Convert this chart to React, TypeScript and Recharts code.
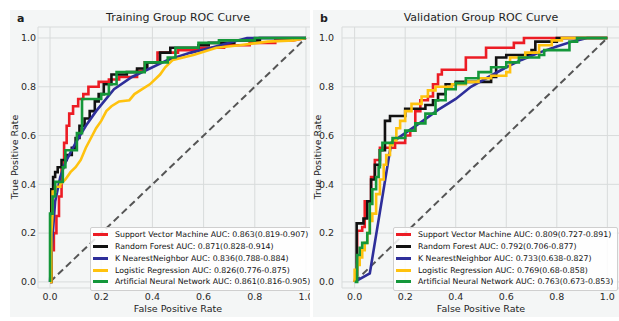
import { LineChart, Line, XAxis, YAxis, CartesianGrid } from 'recharts';

type Pt = [number, number];

const ticks = [0, 0.2, 0.4, 0.6, 0.8, 1.0];
const models = ['Support Vector Machine', 'Random Forest', 'K NearestNeighbor', 'Logistic Regression', 'Artificial Neural Network'];
const colors = ['#ec1c24', '#111111', '#2e2e9a', '#ffc20e', '#14973a'];
const trainAuc = ['0.863(0.819-0.907)', '0.871(0.828-0.914)', '0.836(0.788-0.884)', '0.826(0.776-0.875)', '0.861(0.816-0.905)'];
const valAuc = ['0.809(0.727-0.891)', '0.792(0.706-0.877)', '0.733(0.638-0.827)', '0.769(0.68-0.858)', '0.763(0.673-0.853)'];
const chance: Pt[] = [[0, 0], [1, 1]];

// training group, (fpr, tpr)
const trainSvm: Pt[] = [[0, 0], [0.005, 0], [0.005, 0.13], [0.015, 0.13], [0.015, 0.2], [0.025, 0.2], [0.025, 0.27], [0.035, 0.27], [0.035, 0.35], [0.045, 0.35], [0.045, 0.47], [0.055, 0.47], [0.055, 0.57], [0.065, 0.57], [0.065, 0.64], [0.075, 0.64], [0.075, 0.69], [0.09, 0.69], [0.09, 0.72], [0.11, 0.72], [0.11, 0.75], [0.13, 0.75], [0.13, 0.77], [0.15, 0.77], [0.15, 0.8], [0.19, 0.8], [0.19, 0.82], [0.23, 0.82], [0.23, 0.83], [0.27, 0.83], [0.27, 0.84], [0.34, 0.84], [0.34, 0.865], [0.37, 0.865], [0.37, 0.9], [0.42, 0.9], [0.42, 0.94], [0.5, 0.94], [0.5, 0.95], [0.58, 0.95], [0.58, 0.96], [0.68, 0.96], [0.68, 0.97], [0.78, 0.97], [0.78, 0.98], [0.88, 0.98], [0.88, 0.99], [0.95, 0.99], [1, 1]];
const trainRf: Pt[] = [[0, 0], [0.005, 0], [0.005, 0.38], [0.012, 0.38], [0.012, 0.43], [0.02, 0.43], [0.02, 0.45], [0.03, 0.45], [0.03, 0.47], [0.045, 0.47], [0.045, 0.5], [0.065, 0.5], [0.065, 0.52], [0.085, 0.52], [0.085, 0.55], [0.1, 0.55], [0.1, 0.59], [0.115, 0.59], [0.115, 0.64], [0.135, 0.64], [0.135, 0.67], [0.155, 0.67], [0.155, 0.7], [0.175, 0.7], [0.175, 0.74], [0.19, 0.74], [0.19, 0.77], [0.21, 0.77], [0.21, 0.81], [0.24, 0.81], [0.24, 0.85], [0.3, 0.85], [0.3, 0.86], [0.34, 0.86], [0.34, 0.875], [0.38, 0.875], [0.38, 0.9], [0.43, 0.9], [0.43, 0.94], [0.47, 0.94], [0.47, 0.96], [0.58, 0.96], [0.58, 0.97], [0.62, 0.97], [0.62, 0.98], [0.72, 0.98], [0.72, 0.99], [0.82, 0.99], [0.82, 1], [1, 1]];
const trainKnn: Pt[] = [[0, 0], [0.008, 0.16], [0.02, 0.33], [0.04, 0.43], [0.06, 0.49], [0.1, 0.57], [0.14, 0.64], [0.18, 0.7], [0.25, 0.79], [0.32, 0.84], [0.39, 0.875], [0.46, 0.91], [0.55, 0.94], [0.63, 0.96], [0.7, 0.98], [0.77, 1], [1, 1]];
const trainLr: Pt[] = [[0, 0], [0.005, 0], [0.005, 0.2], [0.01, 0.28], [0.01, 0.37], [0.02, 0.37], [0.02, 0.39], [0.04, 0.39], [0.04, 0.4], [0.06, 0.42], [0.08, 0.45], [0.1, 0.47], [0.12, 0.5], [0.14, 0.55], [0.16, 0.59], [0.18, 0.63], [0.2, 0.66], [0.22, 0.7], [0.24, 0.72], [0.27, 0.74], [0.31, 0.745], [0.33, 0.77], [0.36, 0.79], [0.39, 0.81], [0.43, 0.85], [0.45, 0.88], [0.48, 0.91], [0.56, 0.93], [0.65, 0.96], [0.74, 0.97], [0.85, 0.985], [0.95, 0.99], [1, 1]];
const trainAnn: Pt[] = [[0, 0], [0, 0.28], [0.01, 0.28], [0.01, 0.35], [0.02, 0.35], [0.02, 0.41], [0.05, 0.41], [0.05, 0.47], [0.06, 0.47], [0.06, 0.54], [0.105, 0.54], [0.105, 0.61], [0.125, 0.61], [0.125, 0.75], [0.2, 0.75], [0.2, 0.77], [0.23, 0.77], [0.23, 0.81], [0.26, 0.81], [0.26, 0.86], [0.37, 0.86], [0.37, 0.9], [0.46, 0.9], [0.46, 0.92], [0.49, 0.92], [0.49, 0.96], [0.58, 0.96], [0.58, 0.98], [0.66, 0.98], [0.66, 0.99], [0.8, 0.99], [0.8, 1], [1, 1]];

// validation group, (fpr, tpr)
const valSvm: Pt[] = [[0, 0], [0.005, 0.03], [0.01, 0.03], [0.01, 0.21], [0.03, 0.21], [0.03, 0.225], [0.04, 0.225], [0.04, 0.33], [0.065, 0.33], [0.065, 0.43], [0.08, 0.43], [0.08, 0.5], [0.1, 0.5], [0.1, 0.55], [0.16, 0.55], [0.16, 0.57], [0.2, 0.57], [0.2, 0.6], [0.22, 0.6], [0.22, 0.62], [0.24, 0.62], [0.24, 0.7], [0.26, 0.7], [0.26, 0.745], [0.29, 0.745], [0.29, 0.76], [0.31, 0.76], [0.31, 0.81], [0.33, 0.81], [0.33, 0.85], [0.345, 0.85], [0.345, 0.87], [0.44, 0.87], [0.44, 0.92], [0.52, 0.92], [0.52, 0.96], [0.63, 0.96], [0.63, 0.98], [0.67, 0.98], [0.67, 1], [1, 1]];
const valRf: Pt[] = [[0, 0], [0.008, 0.02], [0.008, 0.24], [0.035, 0.24], [0.035, 0.26], [0.05, 0.26], [0.05, 0.33], [0.065, 0.33], [0.065, 0.42], [0.08, 0.42], [0.08, 0.48], [0.1, 0.48], [0.1, 0.54], [0.12, 0.54], [0.12, 0.66], [0.14, 0.66], [0.14, 0.68], [0.2, 0.68], [0.2, 0.71], [0.28, 0.71], [0.28, 0.725], [0.31, 0.725], [0.31, 0.745], [0.33, 0.745], [0.33, 0.77], [0.36, 0.77], [0.36, 0.81], [0.4, 0.81], [0.4, 0.82], [0.54, 0.82], [0.54, 0.84], [0.56, 0.84], [0.56, 0.92], [0.6, 0.92], [0.6, 0.93], [0.7, 0.93], [0.7, 0.95], [0.715, 0.95], [0.715, 0.985], [0.8, 0.985], [0.8, 1], [1, 1]];
const valKnn: Pt[] = [[0, 0], [0.06, 0.035], [0.145, 0.57], [0.2, 0.61], [0.27, 0.66], [0.33, 0.705], [0.4, 0.75], [0.46, 0.8], [0.53, 0.84], [0.6, 0.88], [0.66, 0.91], [0.73, 0.94], [0.8, 0.965], [0.86, 0.985], [0.92, 1], [1, 1]];
const valLr: Pt[] = [[0, 0], [0, 0.05], [0.01, 0.05], [0.01, 0.07], [0.02, 0.07], [0.02, 0.1], [0.03, 0.1], [0.03, 0.13], [0.04, 0.13], [0.04, 0.16], [0.05, 0.16], [0.05, 0.2], [0.06, 0.2], [0.06, 0.25], [0.07, 0.25], [0.07, 0.28], [0.085, 0.28], [0.085, 0.36], [0.1, 0.36], [0.1, 0.42], [0.115, 0.42], [0.115, 0.48], [0.125, 0.48], [0.125, 0.52], [0.14, 0.52], [0.14, 0.56], [0.15, 0.56], [0.15, 0.58], [0.165, 0.58], [0.165, 0.63], [0.18, 0.63], [0.18, 0.66], [0.2, 0.66], [0.2, 0.7], [0.225, 0.7], [0.225, 0.73], [0.265, 0.73], [0.265, 0.76], [0.29, 0.76], [0.29, 0.785], [0.32, 0.785], [0.32, 0.8], [0.385, 0.8], [0.385, 0.81], [0.44, 0.81], [0.44, 0.82], [0.49, 0.82], [0.49, 0.835], [0.54, 0.835], [0.54, 0.845], [0.6, 0.845], [0.6, 0.86], [0.615, 0.86], [0.615, 0.92], [0.675, 0.92], [0.675, 0.94], [0.73, 0.94], [0.73, 0.97], [0.78, 0.97], [0.78, 0.99], [0.82, 0.99], [0.82, 1], [1, 1]];
const valAnn: Pt[] = [[0, 0], [0.01, 0], [0.01, 0.11], [0.02, 0.11], [0.02, 0.14], [0.03, 0.14], [0.03, 0.16], [0.05, 0.16], [0.05, 0.2], [0.06, 0.2], [0.06, 0.32], [0.07, 0.32], [0.07, 0.38], [0.085, 0.38], [0.085, 0.43], [0.095, 0.43], [0.095, 0.47], [0.1, 0.47], [0.1, 0.54], [0.11, 0.54], [0.11, 0.57], [0.15, 0.57], [0.15, 0.59], [0.2, 0.59], [0.2, 0.62], [0.24, 0.62], [0.24, 0.65], [0.28, 0.65], [0.28, 0.69], [0.32, 0.69], [0.32, 0.745], [0.36, 0.745], [0.36, 0.79], [0.4, 0.79], [0.4, 0.815], [0.44, 0.815], [0.44, 0.835], [0.49, 0.835], [0.49, 0.86], [0.54, 0.86], [0.54, 0.88], [0.6, 0.88], [0.6, 0.9], [0.65, 0.9], [0.65, 0.92], [0.73, 0.92], [0.73, 0.93], [0.75, 0.93], [0.75, 0.95], [0.85, 0.95], [0.85, 0.985], [0.88, 0.985], [0.88, 1], [1, 1]];

const toPts = (arr: Pt[]) => arr.map(([fpr, tpr]) => ({ fpr, tpr }));
const FONT = '"DejaVu Sans", sans-serif';
const TEXT = '#1e1e1e';

function RocPanel({ panelLeft, panelWidth, plotLeft, plotRight, xDomain, yTickGap, legendLeft, letter, title, curves, auc }: any) {
    const chartWidth = plotRight + 10;
    const center = (plotLeft + plotRight) / 2;
    const tickStyle = { fontSize: 9.5, fill: '#2a2a2a', fontFamily: FONT };
    return (
        <div style={{ position: 'absolute', left: panelLeft, top: 10, width: panelWidth, height: 307, background: '#f4f6f6', overflow: 'hidden' }}>
            <div style={{ position: 'absolute', left: -panelLeft, top: -10, width: 640, height: 321, fontFamily: FONT, color: TEXT }}>
                <LineChart width={chartWidth} height={321} margin={{ top: 27, right: 10, bottom: 5, left: plotLeft - 28 }}>
                    <CartesianGrid stroke="#d8dbdb" strokeWidth={1} />
                    <XAxis type="number" dataKey="fpr" domain={xDomain} allowDataOverflow ticks={ticks} interval={0}
                        tickFormatter={(v: number) => v.toFixed(1)} axisLine={false} tickLine={false} tickSize={3} tickMargin={2} height={28} tick={tickStyle} />
                    <YAxis type="number" domain={[-0.025, 1.045]} allowDataOverflow ticks={ticks} interval={0}
                        tickFormatter={(v: number) => v.toFixed(1)} axisLine={false} tickLine={false} tickSize={0} tickMargin={yTickGap} width={28} tick={tickStyle} />
                    <Line data={toPts(chance)} dataKey="tpr" type="linear" stroke="#555555" strokeWidth={2} strokeDasharray="7 4" dot={false} isAnimationActive={false} />
                    {curves.map((c: Pt[], i: number) => (
                        <Line key={models[i]} data={toPts(c)} dataKey="tpr" type="linear" stroke={colors[i]} strokeWidth={2.6} dot={false} isAnimationActive={false} />
                    ))}
                </LineChart>
                <div style={{ position: 'absolute', left: center - 120, width: 240, top: 11, lineHeight: '14px', fontSize: 11, textAlign: 'center' }}>{title}</div>
                <div style={{ position: 'absolute', left: panelLeft + 7, top: 12, lineHeight: '14px', fontSize: 11, fontWeight: 'bold' }}>{letter}</div>
                <div style={{ position: 'absolute', left: center - 100, width: 200, top: 302, lineHeight: '14px', fontSize: 9.5, textAlign: 'center' }}>False Positive Rate</div>
                <div style={{ position: 'absolute', left: panelLeft + 5 - 100, width: 200, top: 150, lineHeight: '14px', fontSize: 9.5, textAlign: 'center', transform: 'rotate(-90deg)' }}>True Positive Rate</div>
                <div style={{ position: 'absolute', left: legendLeft, top: 227, padding: '1px 4px 2px 2px', background: 'rgba(255,255,255,0.85)', border: '1px solid #cfcfcf', borderRadius: 2, color: '#111' }}>
                    {models.map((m, i) => (
                        <div key={m} style={{ display: 'flex', alignItems: 'center', height: 11.75, whiteSpace: 'nowrap', fontSize: 7.8 }}>
                            <span style={{ display: 'inline-block', width: 15, height: 3, background: colors[i], marginRight: 7 }} />
                            <span>{m} AUC: {auc[i]}</span>
                        </div>
                    ))}
                </div>
            </div>
        </div>
    );
}

export default function App() {
    return (
        <div style={{ position: 'absolute', left: 0, top: 0, width: 619, height: 321, background: '#ffffff', overflow: 'hidden' }}>
            <RocPanel panelLeft={10} panelWidth={300} plotLeft={38} plotRight={318} xDomain={[-0.047, 1.047]} yTickGap={2} legendLeft={90}
                letter="a" title="Training Group ROC Curve" curves={[trainSvm, trainRf, trainKnn, trainLr, trainAnn]} auc={trainAuc} />
            <RocPanel panelLeft={313} panelWidth={306} plotLeft={342} plotRight={620} xDomain={[-0.05, 1.05]} yTickGap={8} legendLeft={393}
                letter="b" title="Validation Group ROC Curve" curves={[valSvm, valRf, valKnn, valLr, valAnn]} auc={valAuc} />
        </div>
    );
}
